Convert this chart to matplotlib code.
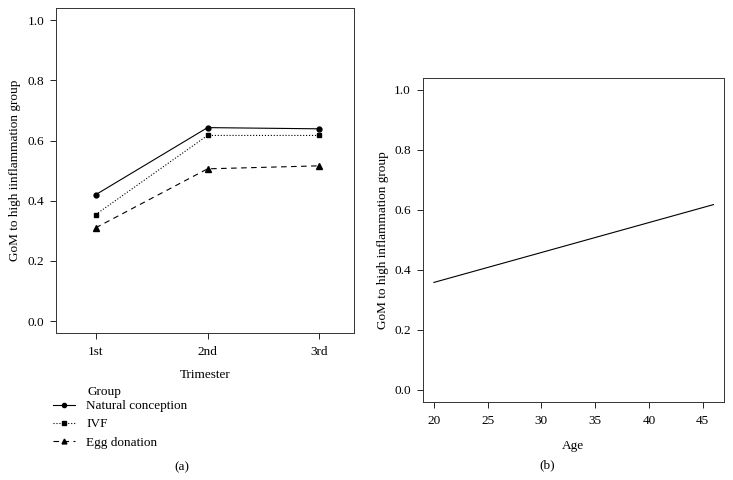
import matplotlib
matplotlib.use('Agg')
import matplotlib.pyplot as plt
from matplotlib.lines import Line2D

plt.rcParams['font.family'] = ['Liberation Serif', 'DejaVu Serif']
plt.rcParams['font.size'] = 9.5

# panel (a): mean GoM by trimester and group
trimesters = ['1st', '2nd', '3rd']
natural = [0.420, 0.643, 0.639]
ivf = [0.354, 0.617, 0.617]
egg = [0.310, 0.506, 0.516]
groups = ['Natural conception', 'IVF', 'Egg donation']

# panel (b): fitted line by age
age = [20, 46]
age_fit = [0.358, 0.617]
age_ticks = [20, 25, 30, 35, 40, 45]
y_ticks = [0.0, 0.2, 0.4, 0.6, 0.8, 1.0]

fig = plt.figure(figsize=(7.33, 4.8), dpi=100)

def style_axes(ax):
    ax.tick_params(direction='out', length=4.5, width=0.6, colors='black',
                   labelsize=9.5, pad=4)
    ax.tick_params(axis='x', pad=5)
    for s in ax.spines.values():
        s.set_linewidth(0.7)
        s.set_color('#333333')
    ax.set_yticks(y_ticks)
    ax.set_yticklabels([f'{v:.1f}' for v in y_ticks])
    ax.set_ylim(-0.04, 1.04)

# (a)
ax1 = fig.add_axes([0.0764, 0.306, 0.4066, 0.677])
xs = [1, 2, 3]
styles = [('-', 'o', 3.5), (':', 's', 3.5), ((0, (5, 4)), '^', 4)]
series = [natural, ivf, egg]
handles = []
for vals, (ls, mk, ms), name in zip(series, styles, groups):
    ax1.plot(xs, vals, color='black', linestyle=ls, linewidth=0.8,
             marker=mk, markersize=ms)
    handles.append(Line2D([], [], color='black', linestyle=ls, linewidth=0.8,
                          marker=mk, markersize=ms - 0.5, label=name))
style_axes(ax1)
ax1.set_xlim(0.645, 3.31)
ax1.set_xticks(xs)
ax1.set_xticklabels(trimesters)
ax1.set_xlabel('Trimester', fontsize=9.5, labelpad=8)
ax1.set_ylabel('GoM to high iinflammation group', fontsize=9.5, labelpad=5)

fig.text(87 / 733, 1 - 392 / 480, 'Group', fontsize=9.5, va='center', ha='left')
fig.legend(handles=handles, loc='upper left', bbox_to_anchor=(53 / 733, 1 - 400 / 480),
           frameon=False, fontsize=9.5, handlelength=1.7, handletextpad=0.8,
           labelspacing=0.45, borderaxespad=0, borderpad=0)
fig.text(182 / 733, 1 - 467 / 480, '(a)', fontsize=9.5, ha='center', va='center')

# (b)
ax2 = fig.add_axes([0.5767, 0.1625, 0.411, 0.676])
ax2.plot(age, age_fit, color='black', linewidth=0.8)
style_axes(ax2)
ax2.set_xlim(18.96, 46.98)
ax2.set_xticks(age_ticks)
ax2.set_xlabel('Age', fontsize=9.5, labelpad=9)
ax2.set_ylabel('GoM to high inflammation group', fontsize=9.5, labelpad=4)
fig.text(547 / 733, 1 - 465 / 480, '(b)', fontsize=9.5, ha='center', va='center')

fig.savefig('out.png', dpi=100)
